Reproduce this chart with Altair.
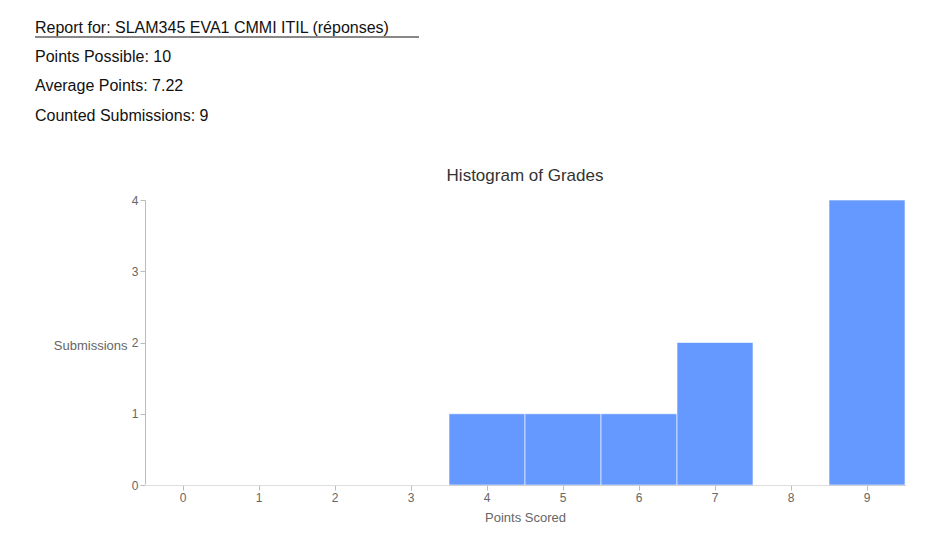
import altair as alt
import pandas as pd

points = [0, 1, 2, 3, 4, 5, 6, 7, 8, 9]
submissions = [0, 0, 0, 0, 1, 1, 1, 2, 0, 4]
header = [
    "Report for: SLAM345 EVA1 CMMI ITIL (réponses)",
    "Points Possible: 10",
    "Average Points: 7.22",
    "Counted Submissions: 9",
]
header_y = [-172, -143, -114, -84]

df = pd.DataFrame({"points": points, "submissions": submissions})
FONT = "Liberation Sans"

bars = alt.Chart(df).mark_bar(color="#6699ff", stroke="white", strokeWidth=0.6).encode(
    x=alt.X("points:O", title="Points Scored",
            scale=alt.Scale(paddingInner=0, paddingOuter=0),
            axis=alt.Axis(labelAngle=0, labelColor="#666", titleColor="#666",
                          titleFontWeight="normal", titleFontSize=13, labelFontSize=12,
                          domainColor="#bbb", tickColor="#bbb", labelFont=FONT, titleFont=FONT,
                          titlePadding=8)),
    y=alt.Y("submissions:Q", title="Submissions",
            scale=alt.Scale(domain=[0, 4]),
            axis=alt.Axis(values=[0, 1, 2, 3, 4], format="d", grid=False,
                          labelColor="#666", titleColor="#666", titleAngle=0,
                          titleAlign="right", titleBaseline="middle", titleX=-18, titleY=145,
                          titleFontWeight="normal", titleFontSize=13, labelFontSize=12,
                          domainColor="#bbb", tickColor="#bbb", labelFont=FONT, titleFont=FONT)),
)

hdr = pd.DataFrame({"t": header, "y": header_y})
texts = alt.Chart(hdr).mark_text(align="left", baseline="middle", font=FONT,
                                 fontSize=16, color="#111").encode(
    text="t:N", x=alt.value(-110), y=alt.Y("y:Q", scale=None)
)
underline = alt.Chart(df.head(1)).mark_rule(color="#111", strokeWidth=1).encode(
    x=alt.value(-110), x2=alt.value(274), y=alt.value(-163)
)
title = alt.Chart(df.head(1)).mark_text(font=FONT, fontSize=17, color="#333").encode(
    text=alt.value("Histogram of Grades"), x=alt.value(380), y=alt.value(-24)
)

chart = alt.layer(bars, texts, underline, title).properties(
    width=760, height=285,
    autosize=alt.AutoSizeParams(type="none"),
    padding={"left": 137, "top": 192, "right": 30, "bottom": 50},
).configure_view(stroke=None)

chart.save("out.html", embed_options={"renderer": "svg", "actions": False})
